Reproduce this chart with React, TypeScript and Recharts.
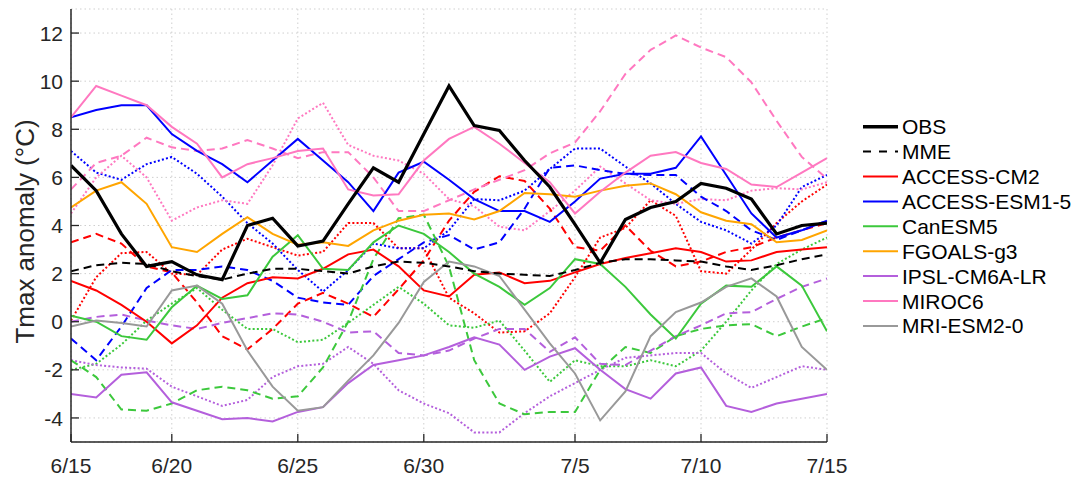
import { CartesianGrid, Legend, Line, LineChart, XAxis, YAxis } from 'recharts'

// day offsets from 6/15
const dayIndex = [0, 1, 2, 3, 4, 5, 6, 7, 8, 9, 10, 11, 12, 13, 14, 15, 16, 17, 18, 19, 20, 21, 22, 23, 24, 25, 26, 27, 28, 29, 30]
const xTicks = [0, 4, 9, 14, 20, 25, 30]
const xTickLabels = ['6/15', '6/20', '6/25', '6/30', '7/5', '7/10', '7/15']
const yTicks = [-4, -2, 0, 2, 4, 6, 8, 10, 12]

const obs = [6.5, 5.45, 3.65, 2.3, 2.5, 1.95, 1.75, 4.0, 4.3, 3.15, 3.35, 4.9, 6.4, 5.8, 7.8, 9.8, 8.15, 7.95, 6.7, 5.6, 4.05, 2.45, 4.25, 4.75, 5.0, 5.75, 5.55, 5.1, 3.65, 4.0, 4.1]
const mme = [2.1, 2.35, 2.45, 2.4, 2.1, 1.9, 1.75, 2.0, 2.2, 2.2, 2.1, 2.0, 2.3, 2.5, 2.45, 2.3, 2.1, 2.0, 1.95, 1.9, 2.15, 2.45, 2.6, 2.6, 2.55, 2.5, 2.3, 2.15, 2.35, 2.6, 2.8]

const cm2Solid = [1.7, 1.3, 0.7, 0.0, -0.9, -0.15, 1.0, 1.6, 1.85, 1.8, 2.2, 2.8, 3.0, 2.3, 1.3, 1.05, 1.95, 2.05, 1.6, 1.7, 2.05, 2.4, 2.65, 2.85, 3.05, 2.9, 2.5, 2.55, 2.9, 3.0, 3.1]
const cm2Dashed = [3.3, 3.65, 3.25, 2.3, 2.05, 0.8, -0.6, -1.15, -0.3, 0.75, 1.2, 0.75, 0.2, 1.35, 2.55, 4.2, 5.4, 6.05, 5.85, 4.7, 3.1, 2.95, 4.0, 2.95, 2.3, 2.5, 2.9, 3.1, 3.5, 3.8, 4.1]
const cm2Dotted = [0.05, 1.85, 2.85, 2.9, 2.0, 1.95, 3.0, 3.45, 3.1, 2.75, 2.9, 4.1, 4.1, 3.05, 3.05, 1.0, 0.35, -0.45, -0.4, 0.35, 1.85, 3.5, 3.9, 5.05, 4.4, 2.1, 2.0, 3.0, 4.1, 5.0, 5.7]

const esmSolid = [8.5, 8.8, 9.0, 9.0, 7.8, 7.1, 6.55, 5.8, 6.7, 7.6, 6.7, 5.8, 4.6, 6.2, 6.65, 5.9, 5.1, 4.6, 4.6, 4.15, 5.0, 5.95, 6.15, 6.15, 6.4, 7.7, 6.1, 4.5, 3.5, 3.8, 4.2]
const esmDashed = [-0.7, -1.6, -0.2, 1.4, 2.15, 2.15, 2.3, 2.15, 1.7, 1.0, 0.8, 0.7, 1.9, 2.6, 3.3, 3.6, 3.0, 3.3, 4.7, 6.4, 6.5, 6.3, 6.15, 6.1, 6.1, 5.2, 4.6, 3.8, 3.4, 3.8, 4.2]
const esmDotted = [7.1, 6.2, 5.9, 6.55, 6.85, 6.15, 5.2, 4.1, 3.25, 2.15, 1.25, 2.15, 3.25, 3.05, 3.05, 3.8, 5.1, 5.05, 5.45, 6.35, 7.2, 7.2, 6.45, 5.75, 4.9, 4.15, 3.8, 3.25, 4.0, 5.6, 6.1]

const canSolid = [0.25, 0.0, -0.6, -0.75, 0.6, 1.5, 0.95, 1.1, 2.7, 3.6, 2.2, 2.15, 3.3, 4.0, 3.65, 2.9, 2.0, 1.45, 0.7, 1.4, 2.6, 2.4, 1.45, 0.3, -0.7, 0.75, 1.5, 1.45, 2.3, 1.5, -0.4]
const canDashed = [-1.6, -2.3, -3.65, -3.7, -3.4, -2.85, -2.7, -2.85, -3.2, -3.1, -1.9, 0.0, 2.6, 4.3, 4.45, 2.3, -1.6, -3.4, -3.85, -3.75, -3.75, -2.0, -1.05, -1.3, -0.6, -0.3, -0.15, -0.1, -0.6, -0.2, 0.15]
const canDotted = [-2.0, -1.75, -0.95, 0.05, 0.75, 1.4, 0.5, -0.3, -0.3, -0.85, -0.75, -0.05, 0.7, 1.45, 0.75, -0.15, -0.25, 0.05, -1.2, -2.5, -1.6, -1.85, -1.85, -1.6, -1.85, -1.2, 0.0, 1.3, 2.4, 3.0, 3.5]

const fgoalsSolid = [4.75, 5.45, 5.8, 4.9, 3.1, 2.9, 3.65, 4.35, 3.65, 3.2, 3.3, 3.15, 3.8, 4.2, 4.45, 4.5, 4.25, 4.6, 5.35, 5.3, 5.2, 5.45, 5.65, 5.75, 5.3, 4.55, 4.2, 4.05, 3.3, 3.4, 3.8]

const ipslSolid = [-3.0, -3.15, -2.2, -2.1, -3.35, -3.7, -4.05, -4.0, -4.15, -3.75, -3.55, -2.55, -1.8, -1.6, -1.4, -1.05, -0.65, -0.95, -2.0, -1.45, -1.1, -2.0, -2.8, -3.2, -2.15, -1.9, -3.5, -3.75, -3.4, -3.2, -3.0]
const ipslDashed = [0.0, 0.2, 0.3, 0.05, -0.15, -0.3, -0.05, 0.15, 0.35, 0.3, 0.0, -0.45, -0.4, -1.3, -1.4, -1.2, -0.7, -0.3, -0.3, -1.25, -0.65, -1.75, -1.8, -1.2, -0.6, -0.15, 0.35, 0.4, 0.95, 1.45, 1.8]
const ipslDotted = [-1.6, -1.8, -1.9, -1.95, -2.7, -3.1, -3.5, -3.25, -2.3, -1.85, -1.75, -1.05, -1.75, -2.85, -3.4, -3.8, -4.6, -4.6, -3.8, -3.1, -2.55, -2.0, -1.5, -1.4, -1.3, -1.3, -2.15, -2.75, -2.3, -1.85, -2.0]

const mirocSolid = [8.5, 9.8, 9.4, 9.0, 8.1, 7.4, 6.0, 6.55, 6.8, 7.1, 7.2, 5.5, 5.25, 5.3, 6.7, 7.6, 8.1, 7.4, 6.6, 5.8, 4.5, 5.4, 6.2, 6.9, 7.05, 6.6, 6.35, 5.7, 5.6, 6.2, 6.8]
const mirocDashed = [5.5, 6.6, 6.9, 7.65, 7.25, 7.1, 7.2, 7.55, 7.2, 6.8, 7.05, 7.05, 6.0, 4.6, 4.6, 5.05, 5.5, 5.9, 6.3, 7.0, 7.45, 8.75, 10.3, 11.3, 11.9, 11.4, 11.0, 9.95, 8.35, 6.85, 5.95]
const mirocDotted = [4.5, 6.0, 6.9, 6.0, 4.2, 4.75, 5.05, 4.9, 6.5, 8.45, 9.1, 7.35, 6.9, 6.7, 6.15, 5.1, 4.8, 3.95, 3.8, 4.6, 5.45, 6.45, 5.75, 5.05, 4.9, 5.1, 5.05, 5.45, 5.55, 5.5, 5.8]

const mriSolid = [-0.2, 0.05, -0.05, -0.2, 1.3, 1.5, 0.75, -1.2, -2.7, -3.7, -3.55, -2.45, -1.4, -0.05, 1.65, 2.5, 2.3, 1.9, 0.5, -0.9, -2.15, -4.1, -2.9, -0.6, 0.4, 0.8, 1.45, 1.8, 1.05, -1.05, -2.0]

const FONT = '"Liberation Sans", Arial, sans-serif'
const INK = '#262626'
const TICK_LEN = 8

const models = [
  { key: 'cm2', name: 'ACCESS-CM2', color: '#ff0000', runs: [cm2Solid, cm2Dashed, cm2Dotted] },
  { key: 'esm', name: 'ACCESS-ESM1-5', color: '#0000ff', runs: [esmSolid, esmDashed, esmDotted] },
  { key: 'can', name: 'CanESM5', color: '#3cc83c', runs: [canSolid, canDashed, canDotted] },
  { key: 'fgoals', name: 'FGOALS-g3', color: '#ffa500', runs: [fgoalsSolid] },
  { key: 'ipsl', name: 'IPSL-CM6A-LR', color: '#b45fdc', runs: [ipslSolid, ipslDashed, ipslDotted] },
  { key: 'miroc', name: 'MIROC6', color: '#ff78c0', runs: [mirocSolid, mirocDashed, mirocDotted] },
  { key: 'mri', name: 'MRI-ESM2-0', color: '#999999', runs: [mriSolid] },
]

const runDash = [undefined, '8 5', '2 2.2']

const data = dayIndex.map((day, i) => {
  const row: Record<string, number> = { day, obs: obs[i], mme: mme[i] }
  models.forEach((m) => m.runs.forEach((r, j) => (row[`${m.key}${j}`] = r[i])))
  return row
})

// dotted runs first so the solid ones sit on top
const modelLines = [2, 1, 0].flatMap((j) =>
  models
    .filter((m) => m.runs.length > j)
    .map((m) => (
      <Line
        key={`${m.key}${j}`}
        dataKey={`${m.key}${j}`}
        stroke={m.color}
        strokeWidth={2}
        strokeDasharray={runDash[j]}
        dot={false}
        activeDot={false}
        isAnimationActive={false}
      />
    )),
)

function BottomTick({ x, y, payload }: any) {
  const axisY = y - 16
  return (
    <g>
      <line x1={x} y1={axisY} x2={x} y2={axisY - TICK_LEN} stroke={INK} strokeWidth={1.3} />
      <text x={x} y={y} dy="0.71em" textAnchor="middle" fill={INK} fontSize={21} fontFamily={FONT}>
        {xTickLabels[xTicks.indexOf(payload.value)]}
      </text>
    </g>
  )
}

function LeftTick({ x, y, payload }: any) {
  const axisX = x + 8
  return (
    <g>
      <line x1={axisX} y1={y} x2={axisX + TICK_LEN} y2={y} stroke={INK} strokeWidth={1.3} />
      <text x={x} y={y} dy="0.36em" textAnchor="end" fill={INK} fontSize={21} fontFamily={FONT}>
        {payload.value}
      </text>
    </g>
  )
}

const TopTick = ({ x, y }: any) => <line x1={x} y1={y} x2={x} y2={y + TICK_LEN} stroke={INK} strokeWidth={1.3} />
const RightTick = ({ x, y }: any) => <line x1={x} y1={y} x2={x - TICK_LEN} y2={y} stroke={INK} strokeWidth={1.3} />

function YLabel({ viewBox }: any) {
  const cx = viewBox.x + 25
  const cy = viewBox.y + viewBox.height / 2 + 6
  return (
    <text
      x={cx}
      y={cy}
      transform={`rotate(-90 ${cx} ${cy})`}
      textAnchor="middle"
      dominantBaseline="central"
      fill={INK}
      fontSize={26}
      fontFamily={FONT}
    >
      Tmax anomaly (°C)
    </text>
  )
}

const legendItems = [
  { name: 'OBS', color: '#000', width: 3.5, dash: undefined as string | undefined },
  { name: 'MME', color: '#000', width: 2, dash: '8 8' },
  ...models.map((m) => ({ name: m.name, color: m.color, width: 2, dash: undefined as string | undefined })),
]

function LegendBox() {
  return (
    <svg width={220} height={240}>
      {legendItems.map((it, i) => {
        const y = 14.7 + i * 24.9
        return (
          <g key={it.name}>
            <line x1={3} y1={y} x2={38} y2={y} stroke={it.color} strokeWidth={it.width} strokeDasharray={it.dash} />
            <text x={42} y={y} dy="0.36em" fill="#000" fontSize={21} fontFamily={FONT}>
              {it.name}
            </text>
          </g>
        )
      })}
    </svg>
  )
}

export default function App() {
  return (
    <div style={{ position: 'absolute', left: 0, top: 0, width: 1080, height: 477, background: '#fff' }}>
      <LineChart width={1080} height={477} data={data} margin={{ top: 9, right: 253, bottom: 0, left: 0 }}>
        <CartesianGrid stroke="#cfcfcf" strokeDasharray="1.5 3" strokeWidth={1} />
        <XAxis
          dataKey="day"
          type="number"
          domain={[0, 30]}
          allowDataOverflow
          ticks={xTicks}
          interval={0}
          height={35}
          tickSize={0}
          tickMargin={16}
          tickLine={false}
          stroke={INK}
          strokeWidth={1.5}
          tick={<BottomTick />}
        />
        <XAxis
          xAxisId="top"
          orientation="top"
          dataKey="day"
          type="number"
          domain={[0, 30]}
          allowDataOverflow
          ticks={xTicks}
          interval={0}
          height={0}
          tickSize={0}
          tickMargin={0}
          tickLine={false}
          stroke={INK}
          strokeWidth={1.5}
          tick={<TopTick />}
        />
        <YAxis
          type="number"
          domain={[-5, 13]}
          allowDataOverflow
          ticks={yTicks}
          interval={0}
          width={71}
          tickSize={0}
          tickMargin={8}
          tickLine={false}
          stroke={INK}
          strokeWidth={1.5}
          tick={<LeftTick />}
          label={(props: any) => <YLabel {...props} />}
        />
        <YAxis
          yAxisId="right"
          orientation="right"
          type="number"
          domain={[-5, 13]}
          allowDataOverflow
          ticks={yTicks}
          interval={0}
          width={0}
          tickSize={0}
          tickMargin={0}
          tickLine={false}
          stroke={INK}
          strokeWidth={1.5}
          tick={<RightTick />}
        />
        {modelLines}
        <Line dataKey="mme" stroke="#000" strokeWidth={2} strokeDasharray="8 5" dot={false} activeDot={false} isAnimationActive={false} />
        <Line dataKey="obs" stroke="#000" strokeWidth={3.2} dot={false} activeDot={false} isAnimationActive={false} />
        <Legend
          layout="horizontal"
          verticalAlign="middle"
          align="center"
          wrapperStyle={{ left: 860, top: 112, width: 220, height: 240 }}
          content={() => <LegendBox />}
        />
      </LineChart>
    </div>
  )
}
